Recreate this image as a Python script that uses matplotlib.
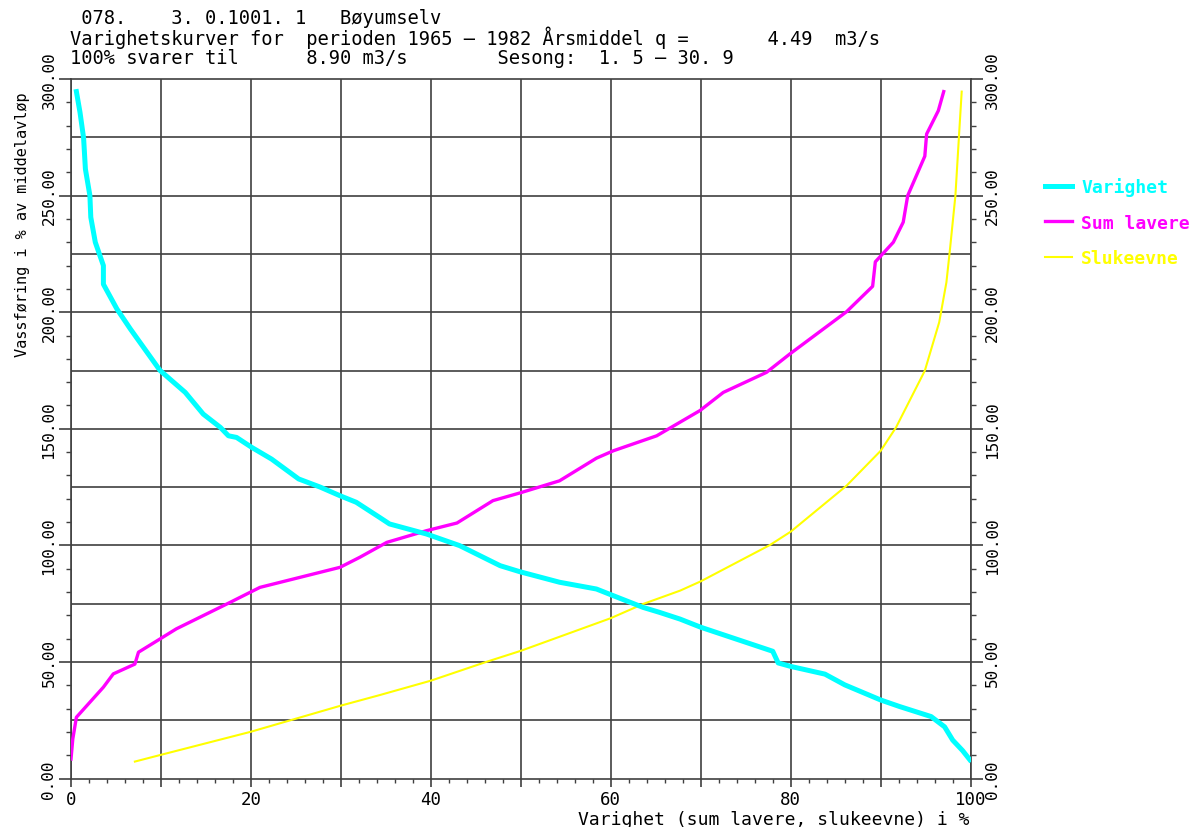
import numpy as np
import matplotlib
matplotlib.use('Agg')
import matplotlib.pyplot as plt
from matplotlib.ticker import MultipleLocator, FuncFormatter

plt.rcParams['font.family'] = ['DejaVu Sans Mono', 'DejaVu Sans']

# Varighet (duration curve)
var_x = [0.6, 1.0, 1.4, 1.6, 2.1, 2.2, 2.7, 3.6, 3.6, 5.1, 6.6, 9.9, 12.7, 14.7, 16.6,
         17.5, 18.4, 20.1, 22.3, 25.3, 27.7, 29.9, 31.7, 34.3, 35.4, 39.5, 43.2, 47.7,
         49.9, 54.3, 58.4, 60.3, 63.6, 65.4, 67.7, 70.0, 78.0, 78.6, 80.0, 83.8, 86.0,
         90.0, 92.1, 95.6, 97.1, 98.0, 99.1, 99.9]
var_y = [294.6, 285.7, 274.7, 261.4, 250.0, 240.7, 230.0, 220.0, 212.0, 201.4, 192.8,
         175.0, 165.6, 156.3, 150.6, 147.0, 146.3, 142.0, 137.0, 128.5, 125.0, 121.3,
         118.5, 112.0, 109.2, 104.9, 99.9, 91.3, 88.7, 84.2, 81.3, 78.4, 73.4, 71.3,
         68.4, 64.9, 54.6, 49.6, 48.1, 44.8, 40.2, 33.7, 30.9, 26.6, 22.2, 16.5, 12.0, 8.1]

# Sum lavere
sum_x = [0.0, 0.2, 0.6, 3.6, 4.7, 7.1, 7.5, 9.9, 11.7, 17.7, 21.0, 29.9, 32.1, 35.1,
         39.5, 42.9, 46.9, 49.9, 54.3, 58.4, 60.3, 65.1, 69.9, 72.5, 77.3, 79.9, 86.2,
         89.1, 89.4, 91.4, 92.5, 93.0, 94.9, 95.1, 96.4, 97.0]
sum_y = [8.4, 17.0, 26.3, 39.2, 44.9, 49.1, 54.2, 59.9, 64.2, 75.6, 82.0, 90.6, 94.9,
         101.3, 106.3, 109.6, 119.2, 122.5, 127.7, 137.4, 140.6, 147.0, 157.8, 165.6,
         174.2, 182.1, 200.2, 211.1, 221.6, 230.0, 238.6, 250.0, 266.9, 276.4, 286.4, 294.6]

# Slukeevne
slu_x = [7.1, 9.9, 20.0, 30.0, 34.3, 40.0, 46.2, 50.0, 60.0, 63.6, 67.7, 70.0, 77.7,
         80.0, 86.2, 90.0, 91.7, 94.9, 96.5, 97.3, 97.7, 98.3, 98.7, 99.0]
slu_y = [7.3, 10.1, 20.1, 31.3, 35.8, 42.0, 50.1, 54.8, 68.8, 74.9, 80.6, 84.6, 100.2,
         105.9, 125.6, 140.6, 150.6, 174.9, 195.7, 212.8, 227.1, 250.0, 275.7, 294.6]

y_ticks = [0, 50, 100, 150, 200, 250, 300]
y_labels = ['%.2f' % v for v in y_ticks]

title_lines = [
    ' 078.    3. 0.1001. 1   Bøyumselv',
    'Varighetskurver for  perioden 1965 – 1982 Årsmiddel q =       4.49  m3/s',
    '100% svarer til      8.90 m3/s        Sesong:  1. 5 – 30. 9',
]

W, H = 1201, 828
fig = plt.figure(figsize=(W / 100, H / 100), dpi=100)
ax = fig.add_axes([71 / W, (H - 779.6) / H, 899.7 / W, 699.6 / H])

gc = '0.25'
ax.set_xlim(0, 100)
ax.set_ylim(0, 300)

# grid
ax.xaxis.set_major_locator(MultipleLocator(10))
ax.xaxis.set_minor_locator(MultipleLocator(2))
ax.yaxis.set_minor_locator(MultipleLocator(10))
ax.grid(axis='x', which='major', color=gc, lw=1.2)
for yy in np.arange(25, 300, 25):
    ax.axhline(yy, color=gc, lw=1.2, zorder=1)

ax.xaxis.set_major_formatter(FuncFormatter(lambda v, p: '%d' % v if int(round(v)) % 20 == 0 else ''))
ax.set_yticks(y_ticks)
ax.set_yticklabels(y_labels, rotation=90, va='center')

ax.tick_params(axis='x', which='major', length=6, width=1.2, color=gc, labelsize=12.5, pad=2)
ax.tick_params(axis='x', which='minor', length=3, width=1.0, color=gc)
ax.tick_params(axis='y', which='major', length=8.5, width=1.2, color=gc, labelsize=11.5,
               right=True, labelright=True, pad=2)
ax.tick_params(axis='y', which='minor', length=3.6, width=1.0, color=gc, right=True)
for s in ax.spines.values():
    s.set_color(gc)
    s.set_linewidth(1.2)

ax.plot(slu_x, slu_y, color='#ffff00', lw=1.5, label='Slukeevne', zorder=3)
ax.plot(sum_x, sum_y, color='#ff00ff', lw=2.4, label='Sum lavere', zorder=4)
ax.plot(var_x, var_y, color='#00ffff', lw=3.6, label='Varighet', zorder=5)

h, l = ax.get_legend_handles_labels()
order = [2, 1, 0]
leg = fig.legend([h[i] for i in order], [l[i] for i in order], loc='upper left',
                 bbox_to_anchor=(1036 / W, 1 - 169 / H), frameon=False, borderpad=0,
                 handlelength=1.5, handletextpad=0.5, labelspacing=0.98,
                 prop={'family': 'DejaVu Sans Mono', 'weight': 'bold', 'size': 13})
for t, c in zip(leg.get_texts(), ['#00ffff', '#ff00ff', '#ffff00']):
    t.set_color(c)

for i, line in enumerate(title_lines):
    fig.text(70 / W, 1 - (18 + 20 * i) / H, line, ha='left', va='center', fontsize=13.5)

fig.text(23 / W, 1 - 92 / H, 'Vassføring i % av middelavløp', rotation=90,
         ha='center', va='top', fontsize=11)
fig.text(970 / W, 1 - 820 / H, 'Varighet (sum lavere, slukeevne) i %',
         ha='right', va='center', fontsize=13)

fig.savefig('out.png', dpi=100)
